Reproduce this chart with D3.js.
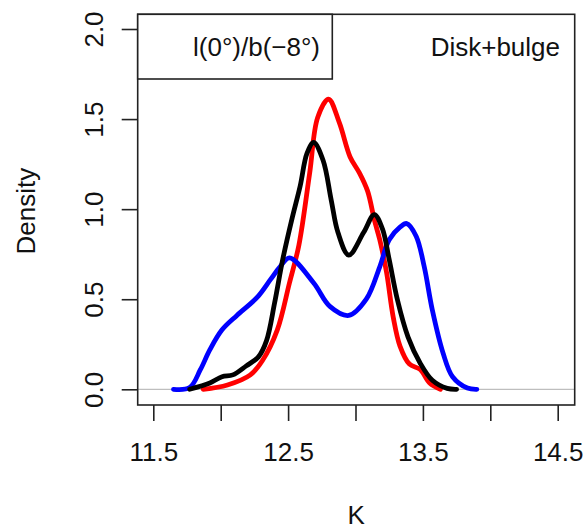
<!DOCTYPE html>
<html>
<head>
<meta charset="utf-8">
<script src="https://cdn.jsdelivr.net/npm/d3@7"></script>
<style>
  html, body { margin: 0; padding: 0; background: #fff; }
  svg { display: block; font-family: "Liberation Sans", Arial, sans-serif; }
</style>
</head>
<body>
<svg id="chart" width="587" height="531"></svg>
<script>
// Kernel density estimates of K magnitude, field l(0°)/b(−8°), disk+bulge model
const xTicks = [11.5, 12.0, 12.5, 13.0, 13.5, 14.0, 14.5];
const xTickLabels = ["11.5", "", "12.5", "", "13.5", "", "14.5"];
const yTicks = [0.0, 0.5, 1.0, 1.5, 2.0];
const yTickLabels = ["0.0", "0.5", "1.0", "1.5", "2.0"];

const redK = [11.87, 12.05, 12.22, 12.31, 12.42, 12.51, 12.58, 12.66, 12.72, 12.80, 12.88, 12.96, 13.03, 13.09, 13.14, 13.18, 13.23, 13.28, 13.33, 13.40, 13.48, 13.55, 13.63];
const redD = [0.0, 0.024, 0.08, 0.16, 0.33, 0.59, 0.80, 1.20, 1.51, 1.61, 1.48, 1.29, 1.20, 1.10, 0.94, 0.83, 0.65, 0.40, 0.24, 0.14, 0.11, 0.035, 0.0];

const blackK = [11.77, 11.92, 12.01, 12.09, 12.19, 12.28, 12.34, 12.40, 12.46, 12.53, 12.59, 12.64, 12.69, 12.76, 12.82, 12.87, 12.95, 13.06, 13.14, 13.20, 13.25, 13.31, 13.39, 13.48, 13.57, 13.68, 13.75];
const blackD = [0.0, 0.035, 0.07, 0.08, 0.13, 0.18, 0.27, 0.48, 0.72, 0.95, 1.13, 1.31, 1.37, 1.27, 1.05, 0.87, 0.745, 0.87, 0.97, 0.89, 0.72, 0.50, 0.29, 0.145, 0.05, 0.005, 0.0];

const blueK = [11.65, 11.77, 11.85, 11.92, 12.01, 12.12, 12.27, 12.37, 12.44, 12.51, 12.69, 12.81, 12.95, 13.08, 13.18, 13.25, 13.33, 13.38, 13.45, 13.51, 13.57, 13.65, 13.72, 13.83, 13.90];
const blueD = [0.0, 0.01, 0.11, 0.22, 0.33, 0.41, 0.51, 0.61, 0.68, 0.73, 0.59, 0.46, 0.41, 0.50, 0.68, 0.83, 0.90, 0.92, 0.85, 0.68, 0.44, 0.20, 0.07, 0.007, 0.0];

const series = [
  { k: redK, d: redD, color: "#ff0000" },
  { k: blueK, d: blueD, color: "#0000ff" },
  { k: blackK, d: blackD, color: "#000000" }
];

const svg = d3.select("#chart");
const frame = { left: 137.7, right: 574.7, top: 14.3, bottom: 405 };

const x = d3.scaleLinear().domain([11.5, 14.5]).range([153.3, 557.7]);
const y = d3.scaleLinear().domain([0, 2]).range([389.3, 29]);

const fontSize = 26;
const ink = "#111";

// zero reference line
svg.append("line")
  .attr("x1", frame.left).attr("x2", frame.right)
  .attr("y1", y(0)).attr("y2", y(0))
  .attr("stroke", "#bebebe").attr("stroke-width", 1.3);

// density curves
const line = d3.line()
  .x(p => x(p[0])).y(p => y(p[1]))
  .curve(d3.curveCatmullRom.alpha(0.5));

series.forEach(s => {
  const pts = s.k.map((k, i) => [k, s.d[i]]);
  svg.append("path")
    .attr("d", line(pts))
    .attr("fill", "none")
    .attr("stroke", s.color)
    .attr("stroke-width", 4.8)
    .attr("stroke-linejoin", "round")
    .attr("stroke-linecap", "round");
});

// plot frame
svg.append("rect")
  .attr("x", frame.left).attr("y", frame.top)
  .attr("width", frame.right - frame.left).attr("height", frame.bottom - frame.top)
  .attr("fill", "none").attr("stroke", "#222").attr("stroke-width", 1.6);

// x axis
const xAxis = d3.axisBottom(x)
  .tickValues(xTicks)
  .tickFormat((d, i) => xTickLabels[i])
  .tickSize(16).tickPadding(22).tickSizeOuter(0);
const gx = svg.append("g").attr("transform", `translate(0,${frame.bottom})`).call(xAxis);
gx.select(".domain").remove();
gx.selectAll(".tick line").attr("stroke", "#222").attr("stroke-width", 1.6);
gx.selectAll(".tick text")
  .attr("font-size", fontSize).attr("fill", ink)
  .attr("font-family", "'Liberation Sans', Arial, sans-serif");

// y axis
const yAxis = d3.axisLeft(y)
  .tickValues(yTicks)
  .tickFormat((d, i) => yTickLabels[i])
  .tickSize(16).tickSizeOuter(0);
const gy = svg.append("g").attr("transform", `translate(${frame.left},0)`).call(yAxis);
gy.select(".domain").remove();
gy.selectAll(".tick line").attr("stroke", "#222").attr("stroke-width", 1.6);
gy.selectAll(".tick text")
  .attr("x", null).attr("dy", null)
  .attr("transform", "translate(-35,0) rotate(-90)")
  .attr("text-anchor", "middle")
  .attr("font-size", fontSize).attr("fill", ink)
  .attr("font-family", "'Liberation Sans', Arial, sans-serif");

// axis titles
svg.append("text")
  .attr("x", (frame.left + frame.right) / 2).attr("y", 524)
  .attr("text-anchor", "middle").attr("font-size", fontSize).attr("fill", ink)
  .text("K");
svg.append("text")
  .attr("transform", `translate(35,${(y(0) + y(2)) / 2 + 2}) rotate(-90)`)
  .attr("text-anchor", "middle").attr("font-size", fontSize).attr("fill", ink)
  .text("Density");

// field label box
svg.append("rect")
  .attr("x", frame.left).attr("y", frame.top)
  .attr("width", 332.3 - frame.left).attr("height", 79 - frame.top)
  .attr("fill", "#fff").attr("stroke", "#222").attr("stroke-width", 1.6);
svg.append("text")
  .attr("x", 320).attr("y", 56)
  .attr("text-anchor", "end").attr("font-size", fontSize).attr("fill", ink)
  .text("l(0°)/b(−8°)");

// model label
svg.append("text")
  .attr("x", 560).attr("y", 56)
  .attr("text-anchor", "end").attr("font-size", fontSize).attr("fill", ink)
  .text("Disk+bulge");
</script>
</body>
</html>
